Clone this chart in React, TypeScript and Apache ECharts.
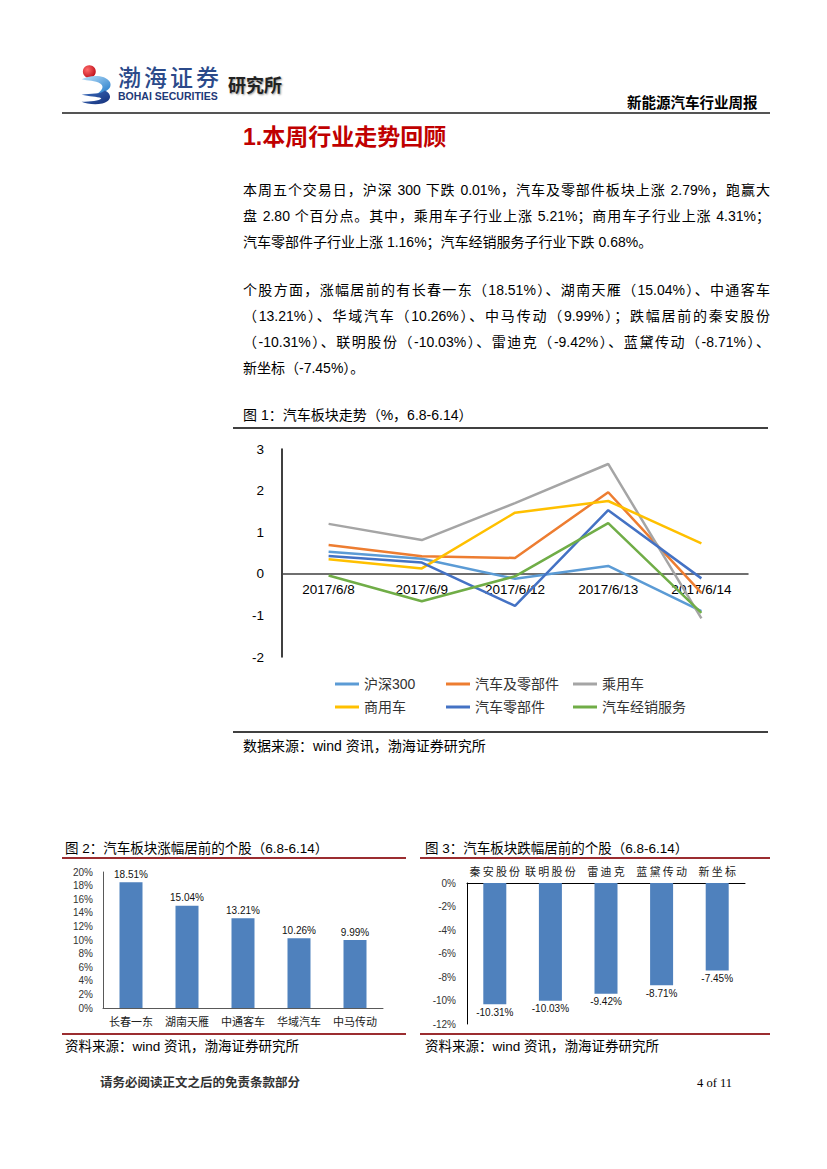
import React, { useEffect, useRef } from "react";
import * as echarts from "echarts";

const FONT = '"Liberation Sans", "Noto Sans CJK SC", sans-serif';

// ---- Figure 1 data ----
const lineDates = ["2017/6/8", "2017/6/9", "2017/6/12", "2017/6/13", "2017/6/14"];
const lineNames = ["沪深300", "汽车及零部件", "乘用车", "商用车", "汽车零部件", "汽车经销服务"];
const hs300 = [0.53, 0.36, -0.12, 0.19, -0.9];
const autoAndParts = [0.69, 0.42, 0.38, 1.96, -0.46];
const passengerCar = [1.2, 0.81, 1.7, 2.64, -1.07];
const commercialCar = [0.35, 0.13, 1.47, 1.75, 0.73];
const autoComponents = [0.43, 0.27, -0.77, 1.53, -0.11];
const dealerService = [-0.04, -0.66, -0.06, 1.22, -0.94];
const lineSeriesValues = [hs300, autoAndParts, passengerCar, commercialCar, autoComponents, dealerService];
const lineColors = ["#5b9bd5", "#ed7d31", "#a5a5a5", "#ffc000", "#4472c4", "#70ad47"];

// ---- Figure 2 data ----
const gainers = ["长春一东", "湖南天雁", "中通客车", "华域汽车", "中马传动"];
const gainValues = [18.51, 15.04, 13.21, 10.26, 9.99];

// ---- Figure 3 data ----
const losers = ["秦安股份", "联明股份", "雷迪克", "蓝黛传动", "新坐标"];
const loseValues = [-10.31, -10.03, -9.42, -8.71, -7.45];

const BAR_BLUE = "#4f81bd";

let logoOk = false;
try {
  const up = echarts.graphic.extendPath(
    "M3,19 C12,14 30,13 36,22 C39,29 32,34 21,36 C28,31 29,27 25,24 C19,20 10,21 3,19 Z",
    {}
  );
  const low = echarts.graphic.extendPath(
    "M3,37 C14,35 25,37 30,32 C39,36 38,45 27,47 C18,49 8,47 3,45 C13,45 24,44 26,41 C21,39 12,39 3,37 Z",
    {}
  );
  echarts.graphic.registerShape("logoUpper", up);
  echarts.graphic.registerShape("logoLower", low);
  logoOk = true;
} catch (e) {
  logoOk = false;
}

function EChart({ option, style }: { option: any; style: React.CSSProperties }) {
  const ref = useRef<HTMLDivElement>(null);
  useEffect(() => {
    if (!ref.current) return;
    const chart = echarts.init(ref.current, undefined, { renderer: "svg" });
    chart.setOption(option);
    return () => chart.dispose();
  }, []);
  return <div ref={ref} style={{ position: "absolute", ...style }} />;
}

const LINE_GRID = { left: 52, right: 27, top: 19, bottom: 73 };
const LINE_PLOT_H = 300 - LINE_GRID.top - LINE_GRID.bottom;
const ZERO_OFFSET = -(LINE_PLOT_H * 2) / 5; // moves the category axis from -2 up to 0 on a -2..3 axis

const lineOption = {
  animation: false,
  grid: LINE_GRID,
  xAxis: {
    type: "category",
    data: lineDates,
    boundaryGap: true,
    position: "bottom",
    offset: ZERO_OFFSET,
    axisLine: { onZero: false, lineStyle: { color: "#404040", width: 1.5 } },
    axisTick: { show: false },
    splitLine: { show: false },
    axisLabel: { interval: 0, fontSize: 13.5, color: "#000", margin: 9, fontFamily: FONT },
  },
  yAxis: {
    type: "value",
    min: -2,
    max: 3,
    interval: 1,
    axisLine: { show: true, lineStyle: { color: "#000", width: 1.5 } },
    axisTick: { show: false },
    splitLine: { show: false },
    axisLabel: { fontSize: 13.5, color: "#000", margin: 18, fontFamily: FONT },
  },
  legend: lineNames.map((n, i) => ({
    data: [n],
    left: [100, 211, 338][i % 3],
    top: i < 3 ? 242 : 265,
    icon: "rect",
    itemWidth: 24,
    itemHeight: 3,
    selectedMode: false,
    textStyle: { fontSize: 14, color: "#333", fontFamily: FONT },
  })),
  series: lineNames.map((n, i) => ({
    name: n,
    type: "line",
    data: lineSeriesValues[i],
    symbol: "none",
    color: lineColors[i],
    lineStyle: { width: 2.5, color: lineColors[i] },
  })),
};

const gainOption = {
  animation: false,
  grid: { left: 43, right: 27, top: 10, bottom: 24 },
  xAxis: {
    type: "category",
    data: gainers,
    axisLine: { lineStyle: { color: "#595959", width: 1 } },
    axisTick: { show: false },
    axisLabel: { interval: 0, fontSize: 11, color: "#222", margin: 8, fontFamily: FONT },
  },
  yAxis: {
    type: "value",
    min: 0,
    max: 20,
    interval: 2,
    axisLine: { show: true, lineStyle: { color: "#595959", width: 1 } },
    axisTick: { show: false },
    splitLine: { show: false },
    axisLabel: { formatter: "{value}%", fontSize: 10, color: "#333", margin: 10, fontFamily: FONT },
  },
  series: [
    {
      type: "bar",
      data: gainValues,
      barWidth: 23,
      itemStyle: { color: BAR_BLUE },
      label: {
        show: true,
        position: "top",
        distance: 3,
        fontSize: 10,
        color: "#111",
        fontFamily: FONT,
        formatter: (p: any) => p.value.toFixed(2) + "%",
      },
    },
  ],
};

const loseOption = {
  animation: false,
  grid: { left: 47, right: 25, top: 21, bottom: 8 },
  xAxis: {
    type: "category",
    data: losers,
    position: "top",
    axisLine: { onZero: true, lineStyle: { color: "#000", width: 1 } },
    axisTick: { show: false },
    axisLabel: {
      interval: 0,
      fontSize: 11,
      color: "#222",
      margin: 6,
      fontFamily: FONT,
      formatter: (v: string) => v.split("").join("\u2009"),
    },
  },
  yAxis: {
    type: "value",
    min: -12,
    max: 0,
    interval: 2,
    axisLine: { show: true, lineStyle: { color: "#000", width: 1 } },
    axisTick: { show: false },
    splitLine: { show: false },
    axisLabel: { formatter: "{value}%", fontSize: 10, color: "#333", margin: 11, fontFamily: FONT },
  },
  series: [
    {
      type: "bar",
      data: loseValues,
      barWidth: 23,
      itemStyle: { color: BAR_BLUE },
      label: {
        show: true,
        position: "bottom",
        distance: 3,
        fontSize: 10,
        color: "#111",
        fontFamily: FONT,
        formatter: (p: any) => p.value.toFixed(2) + "%",
      },
    },
  ],
};

const logoOption = {
  animation: false,
  graphic: [
    {
      type: "circle",
      shape: { cx: 12, cy: 10, r: 7.5 },
      style: {
        fill: new echarts.graphic.RadialGradient(0.35, 0.35, 0.7, [
          { offset: 0, color: "#ff6b6b" },
          { offset: 1, color: "#c0101a" },
        ]),
      },
    },
    ...(logoOk
      ? [
          {
            type: "logoUpper",
            x: 0,
            y: 0,
            style: {
              fill: new echarts.graphic.LinearGradient(0, 0, 1, 1, [
                { offset: 0, color: "#bfe3fb" },
                { offset: 1, color: "#1f78c8" },
              ]),
            },
          },
          {
            type: "logoLower",
            x: 0,
            y: 0,
            style: {
              fill: new echarts.graphic.LinearGradient(0, 0, 1, 1, [
                { offset: 0, color: "#3c6fc0" },
                { offset: 1, color: "#142e78" },
              ]),
            },
          },
        ]
      : []),
  ],
};

function Txt({
  x,
  y,
  children,
  size = 14,
  color = "#000",
  weight = 400,
  width,
  justify = false,
  family = FONT,
  extra = {},
}: any) {
  const lh = Math.round(size * 1.6);
  return (
    <div
      style={{
        position: "absolute",
        left: x,
        top: y - lh / 2,
        height: lh,
        lineHeight: lh + "px",
        fontSize: size,
        color,
        fontWeight: weight,
        fontFamily: family,
        whiteSpace: "nowrap",
        width: width,
        textAlign: justify ? "justify" : "left",
        textAlignLast: justify ? "justify" : "auto",
        ...extra,
      } as React.CSSProperties}
    >
      {children}
    </div>
  );
}

function HLine({ x1, x2, y, color, w }: any) {
  return (
    <div
      style={{ position: "absolute", left: x1, top: y - w / 2, width: x2 - x1, height: w, background: color }}
    />
  );
}

const p1 = [
  "本周五个交易日，沪深 300 下跌 0.01%，汽车及零部件板块上涨 2.79%，跑赢大",
  "盘 2.80 个百分点。其中，乘用车子行业上涨 5.21%；商用车子行业上涨 4.31%；",
  "汽车零部件子行业上涨 1.16%；汽车经销服务子行业下跌 0.68%。",
];
const p2 = [
  "个股方面，涨幅居前的有长春一东（18.51%）、湖南天雁（15.04%）、中通客车",
  "（13.21%）、华域汽车（10.26%）、中马传动（9.99%）；跌幅居前的秦安股份",
  "（-10.31%）、联明股份（-10.03%）、雷迪克（-9.42%）、蓝黛传动（-8.71%）、",
  "新坐标（-7.45%）。",
];

export default function App() {
  useEffect(() => {
    document.body.style.margin = "0";
  }, []);
  return (
    <div
      style={{
        position: "absolute",
        left: 0,
        top: 0,
        width: 827,
        height: 1169,
        background: "#fff",
        overflow: "hidden",
        fontFamily: FONT,
      }}
    >
      {/* Header */}
      <EChart option={logoOption} style={{ left: 79, top: 63, width: 42, height: 50, transform: "scale(0.86)", transformOrigin: "0 0" }} />
      <Txt x={118} y={78} size={23} color="#2b4a8a" weight={500} extra={{ letterSpacing: "3px" }}>
        渤海证券
      </Txt>
      <Txt x={118} y={96.5} size={10.5} color="#1f3a78" weight={700}>
        BOHAI SECURITIES
      </Txt>
      <Txt x={228} y={86} size={18} color="#222" weight={700} extra={{ textShadow: "1px 1px 2px #999" }}>
        研究所
      </Txt>
      <Txt x={627} y={103} size={14.5} color="#000" weight={700}>
        新能源汽车行业周报
      </Txt>
      <HLine x1={62} x2={770} y={113} color="#555" w={2.5} />

      {/* Section title */}
      <Txt x={243} y={137} size={23} color="#c00000" weight={700}>
        1.本周行业走势回顾
      </Txt>

      {p1.map((t, i) => (
        <Txt key={"a" + i} x={243} y={190 + i * 26} size={14} width={527} justify={i < p1.length - 1}>
          {t}
        </Txt>
      ))}
      {p2.map((t, i) => (
        <Txt key={"b" + i} x={243} y={290 + i * 26} size={14} width={527} justify={i < p2.length - 1}>
          {t}
        </Txt>
      ))}

      {/* Figure 1 */}
      <Txt x={243} y={415} size={14}>
        图 1：汽车板块走势（%，6.8-6.14）
      </Txt>
      <HLine x1={233} x2={768} y={428} color="#404040" w={2} />
      <EChart option={lineOption} style={{ left: 230, top: 430, width: 545, height: 300 }} />
      <HLine x1={233} x2={768} y={732} color="#404040" w={2} />
      <Txt x={243} y={746} size={14}>
        数据来源：wind 资讯，渤海证券研究所
      </Txt>

      {/* Figure 2 */}
      <Txt x={65} y={849} size={13.5}>
        图 2：汽车板块涨幅居前的个股（6.8-6.14）
      </Txt>
      <HLine x1={62} x2={406} y={858} color="#9b2d30" w={2} />
      <EChart option={gainOption} style={{ left: 60, top: 862, width: 350, height: 170 }} />
      <HLine x1={62} x2={406} y={1034} color="#9b2d30" w={2} />
      <Txt x={65} y={1047} size={13.5}>
        资料来源：wind 资讯，渤海证券研究所
      </Txt>

      {/* Figure 3 */}
      <Txt x={425} y={849} size={13.5}>
        图 3：汽车板块跌幅居前的个股（6.8-6.14）
      </Txt>
      <HLine x1={420} x2={770} y={858} color="#9b2d30" w={2} />
      <EChart option={loseOption} style={{ left: 420, top: 862, width: 350, height: 170 }} />
      <HLine x1={420} x2={770} y={1034} color="#9b2d30" w={2} />
      <Txt x={425} y={1047} size={13.5}>
        资料来源：wind 资讯，渤海证券研究所
      </Txt>

      {/* Footer */}
      <Txt x={100} y={1083} size={12.5} color="#333" weight={700}>
        请务必阅读正文之后的免责条款部分
      </Txt>
      <Txt x={697} y={1083} size={12.5} color="#000" family={'"Liberation Serif", serif'}>
        4 of 11
      </Txt>
    </div>
  );
}
